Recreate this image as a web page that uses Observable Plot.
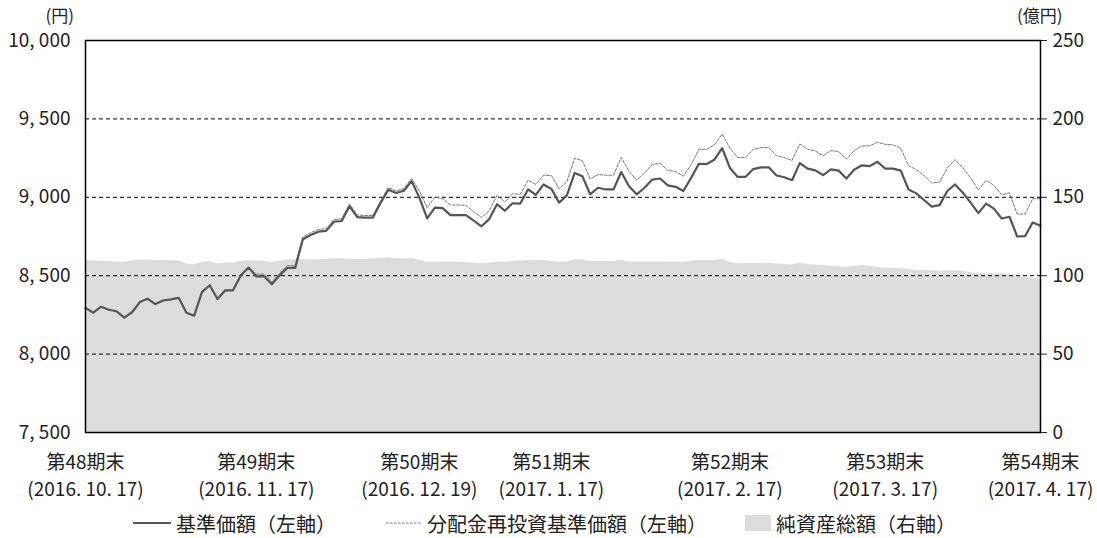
<!DOCTYPE html>
<html lang="ja">
<head>
<meta charset="utf-8">
<script src="https://cdn.jsdelivr.net/npm/d3@7"></script>
<script src="https://cdn.jsdelivr.net/npm/@observablehq/plot@0.6"></script>
<style>
  html, body { margin: 0; padding: 0; background: #fff; }
  #wrap { position: relative; width: 1097px; height: 538px; font-family: "Noto Sans CJK JP", "Noto Sans", sans-serif; color: #222; }
  .leg { position: absolute; top: 510px; height: 26px; display: flex; align-items: center; font-size: 20px; white-space: nowrap; }
  .leg svg { margin-right: 3px; }
</style>
</head>
<body>
<div id="wrap">
  <div id="chart"></div>
  <div class="leg" style="left:133px"><svg width="40" height="10"><line x1="0" y1="5" x2="38" y2="5" stroke="#555" stroke-width="2"/></svg><span>基準価額（左軸）</span></div>
  <div class="leg" style="left:386px"><svg width="38" height="10"><line x1="0" y1="5" x2="36" y2="5" stroke="#777" stroke-width="1" stroke-dasharray="2.5,1.5"/></svg><span>分配金再投資基準価額（左軸）</span></div>
  <div class="leg" style="left:745px"><svg width="28" height="18"><rect x="0" y="1" width="26" height="16" fill="#dcdcdc"/></svg><span>純資産総額（右軸）</span></div>
</div>
<script>
// 期末ラベル（営業日インデックス）
const periodIdx = [0, 22, 43, 60, 83, 103, 123];
const periodNames = ["第48期末", "第49期末", "第50期末", "第51期末", "第52期末", "第53期末", "第54期末"];
const periodDates = ["(2016. 10. 17)", "(2016. 11. 17)", "(2016. 12. 19)", "(2017. 1. 17)", "(2017. 2. 17)", "(2017. 3. 17)", "(2017. 4. 17)"];

// 基準価額（円）
const basePrice = [
  8295, 8264, 8302, 8283, 8273, 8233, 8267, 8332, 8353, 8319,
  8342, 8349, 8359, 8264, 8245, 8395, 8439, 8351, 8407, 8407,
  8502, 8552, 8496, 8496, 8445, 8502, 8550, 8550, 8733, 8760,
  8781, 8786, 8844, 8849, 8943, 8874, 8870, 8870, 8964, 9048,
  9027, 9042, 9103, 8998, 8865, 8934, 8931, 8886, 8886, 8886,
  8851, 8815, 8861, 8956, 8914, 8962, 8960, 9050, 9015, 9082,
  9054, 8966, 9012, 9155, 9134, 9019, 9061, 9050, 9050, 9161,
  9071, 9019, 9061, 9113, 9120, 9076, 9067, 9040, 9124, 9214,
  9212, 9240, 9313, 9187, 9130, 9130, 9180, 9191, 9191, 9139,
  9128, 9109, 9218, 9183, 9172, 9141, 9178, 9170, 9120, 9176,
  9204, 9199, 9227, 9183, 9183, 9170, 9050, 9025, 8983, 8941,
  8950, 9040, 9082, 9029, 8966, 8899, 8960, 8928, 8865, 8876,
  8750, 8752, 8840, 8819
];

// 分配金再投資基準価額（円）
const reinvestPrice = [
  8295, 8264, 8302, 8283, 8273, 8233, 8267, 8332, 8353, 8319,
  8342, 8349, 8359, 8264, 8245, 8395, 8439, 8351, 8407, 8407,
  8502, 8552, 8510, 8510, 8459, 8516, 8564, 8564, 8747, 8774,
  8795, 8800, 8858, 8863, 8958, 8888, 8884, 8884, 8978, 9062,
  9041, 9056, 9120, 9040, 8934, 9002, 8991, 8951, 8951, 8949,
  8907, 8871, 8914, 9013, 8970, 9023, 9019, 9109, 9082, 9141,
  9139, 9054, 9100, 9250, 9233, 9117, 9145, 9141, 9141, 9254,
  9166, 9109, 9155, 9208, 9218, 9170, 9166, 9134, 9208, 9306,
  9306, 9334, 9404, 9313, 9254, 9254, 9306, 9317, 9317, 9265,
  9254, 9235, 9340, 9306, 9296, 9265, 9298, 9292, 9243, 9298,
  9328, 9328, 9351, 9338, 9334, 9313, 9202, 9176, 9139, 9092,
  9096, 9187, 9240, 9187, 9124, 9046, 9109, 9076, 9015, 9029,
  8893, 8893, 8991, 8991
];

// 純資産総額（億円）
const netAssets = [
  109.5, 109.5, 109.0, 109.0, 108.6, 108.6, 109.5, 110.0, 110.0, 109.7,
  109.7, 109.5, 109.5, 107.5, 107.0, 108.5, 109.0, 107.5, 108.0, 108.0,
  109.2, 109.5, 109.3, 109.0, 108.6, 109.2, 110.0, 110.1, 110.1, 110.0,
  110.1, 110.5, 110.8, 110.8, 110.5, 110.1, 110.5, 110.8, 111.0, 111.4,
  110.8, 110.7, 111.0, 109.8, 108.6, 108.8, 108.6, 108.5, 108.6, 108.4,
  108.0, 107.6, 108.0, 108.5, 108.6, 109.0, 109.3, 109.7, 109.5, 109.7,
  109.2, 108.6, 108.6, 110.1, 110.1, 109.0, 109.0, 109.2, 109.0, 110.0,
  108.6, 108.8, 108.6, 108.6, 108.8, 108.6, 108.5, 108.6, 109.2, 109.7,
  109.7, 109.7, 110.7, 108.6, 107.6, 107.6, 107.8, 107.6, 108.0, 107.5,
  107.2, 106.8, 108.0, 107.2, 106.8, 106.5, 106.0, 105.7, 105.4, 106.0,
  106.5, 106.0, 105.4, 104.8, 104.8, 104.6, 104.0, 103.3, 103.3, 103.3,
  102.9, 103.2, 103.2, 102.9, 102.0, 101.2, 101.2, 101.2, 101.2, 101.0,
  99.5, 99.0, 98.2, 98.5
];

const leftTicks = [7500, 8000, 8500, 9000, 9500, 10000];
const gridTicks = [8000, 8500, 9000, 9500];
const rightTicks = [0, 50, 100, 150, 200, 250];

const yMin = 7500, yMax = 10000, rMax = 250;
const toLeft = v => yMin + v * (yMax - yMin) / rMax;   // 億円 → 左軸スケール
const fmtYen = d => { const s = String(d); return s.length > 3 ? s.slice(0, -3) + ", " + s.slice(-3) : s; };

const rows = basePrice.map((b, i) => ({ i, base: b, reinvest: reinvestPrice[i], assets: toLeft(netAssets[i]) }));
const periods = periodIdx.map((p, k) => ({ i: p, label: periodNames[k] + "\n" + periodDates[k] }));

const chart = Plot.plot({
  width: 1097,
  height: 500,
  marginTop: 40,
  marginBottom: 68,
  marginLeft: 85,
  marginRight: 57,
  style: { fontFamily: "'Noto Sans CJK JP', 'Noto Sans', sans-serif", fontSize: "19px", color: "#222", background: "#fff" },
  x: { type: "linear", domain: [0, basePrice.length - 1] },
  y: { domain: [yMin, yMax] },
  marks: [
    Plot.areaY(rows, { x: "i", y1: yMin, y2: "assets", fill: "#dcdcdc", curve: "linear" }),
    Plot.ruleY(gridTicks, { stroke: "#000", strokeWidth: 1, strokeDasharray: "4,3" }),
    Plot.line(rows, { x: "i", y: "reinvest", stroke: "#777", strokeWidth: 1, strokeDasharray: "3,1.5" }),
    Plot.line(rows, { x: "i", y: "base", stroke: "#555", strokeWidth: 2.2 }),
    Plot.frame({ stroke: "#000", strokeWidth: 1.5 }),
    Plot.axisY({ anchor: "left", ticks: leftTicks, tickSize: 0, tickPadding: 15, tickFormat: fmtYen, label: null }),
    Plot.axisY({ anchor: "right", ticks: leftTicks, tickSize: 6, tickPadding: 6, tickFormat: d => String(Math.round((d - yMin) * rMax / (yMax - yMin))), label: null }),
    Plot.axisX({ ticks: [], label: null, tickSize: 0 }),
    Plot.text(periods, { x: "i", text: "label", frameAnchor: "bottom", lineAnchor: "top", dy: 17, lineHeight: 1.42, fontSize: 19, fill: "#222" }),
    Plot.text(["(円)"], { frameAnchor: "top-left", dx: -40, dy: -31, fontSize: 17, fill: "#222" }),
    Plot.text(["(億円)"], { frameAnchor: "top-right", dx: 22, dy: -31, fontSize: 17, fill: "#222" })
  ]
});
document.getElementById("chart").appendChild(chart);
</script>
</body>
</html>
